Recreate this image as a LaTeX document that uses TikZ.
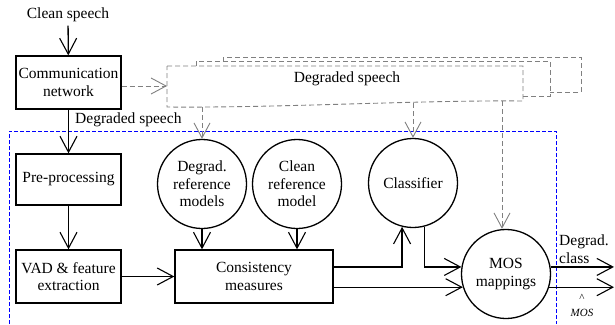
\documentclass[tikz,border=0pt]{standalone}
\usepackage{fontspec}
\setmainfont{Liberation Serif}
\usetikzlibrary{arrows.meta}
\begin{document}
\begin{tikzpicture}[x=1pt,y=-1pt, font=\fontsize{15.5}{17.5}\selectfont,
  box/.style={draw, line width=1.3pt, minimum width=105pt, inner sep=0pt, align=center},
  circ/.style={draw, circle, line width=1.3pt, minimum size=89pt, inner sep=0pt, align=center},
  arr/.style={line width=1.3pt, -{Straight Barb[length=16pt,width=17pt,line width=1.1pt]}},
  gline/.style={draw=gray, line width=0.9pt, dash pattern=on 5pt off 3pt},
  garr/.style={gline, -{Straight Barb[length=15pt,width=16pt,line width=0.9pt]}},
  blueline/.style={draw=blue, line width=1pt, dash pattern=on 4pt off 2pt}]
\useasboundingbox (0,0) rectangle (615,324);

% blue dashed frame
\draw[blueline] (9,324) -- (9,131) -- (556,131) -- (556,324);

% degraded speech stack
\draw[gline] (223,61) -- (223,57) -- (581,57) -- (581,92) -- (550,92);
\draw[gline] (196,66) -- (196,61) -- (550,61) -- (550,96) -- (523,96);
\draw[gline] (167,66) -- (523,66) -- (523,101) .. controls (420,100) and (280,108) .. (167,107) -- cycle;
\node (dsp) at (347,79) {Degraded speech};
\coordinate (din) at (167,86);
\coordinate (b1) at (202,107);
\coordinate (b2) at (413,103);
\coordinate (b3) at (502,101);

% nodes
\node (clean) at (68,15) {Clean speech};
\node[box, minimum height=53pt] (comm) at (68.5,82.5) {Communication\\network};
\node[box, minimum height=51pt] (pre) at (68.5,179.5) {Pre-processing};
\node[box, minimum height=53pt] (vad) at (68.5,276.5) {VAD \& feature\\extraction};
\node[box, minimum width=158pt, minimum height=53pt] (cons) at (254,276.5) {Consistency\\measures};
\node[circ] (deg) at (202,184) {Degrad.\\reference\\models};
\node[circ] (cln) at (297,184) {Clean\\reference\\model};
\node[circ] (cls) at (413,183) {Classifier};
\node[circ] (mos) at (506,274) {MOS\\mappings};

% labels
\node[anchor=west, inner sep=0pt] (dlab) at (75,120) {Degraded speech};
\node[anchor=west, inner sep=0pt, align=left] (dcl) at (559,249) {Degrad.\\class};
\node[align=center, inner sep=0pt, font=\fontsize{11}{15}\selectfont] (mhat) at (582,305) {\textasciicircum\\\textit{MOS}};

% gray dashed arrows
\draw[garr] (comm.east |- din) -- (din);
\draw[garr] (b1) -- (deg.north);
\draw[garr] (b2) -- (cls.north);
\draw[garr] (b3) -- (b3 |- mos.north);

% black arrows
\draw[arr] (clean) -- (comm);
\draw[arr] (comm) -- (pre);
\draw[arr] (pre) -- (vad);
\draw[arr] (vad) -- (cons);
\draw[arr] (deg) -- (deg |- cons.north);
\draw[arr] (cln) -- (cln |- cons.north);
\draw[arr] (cons.east |- mos.171) -| (cls.256);
\draw[arr] (cls.285) |- (mos.171);
\draw[arr] (cons.east |- mos.197) -- (mos.197);
\coordinate (oa) at (614,0);
\draw[arr] (mos.9) -- (mos.9 -| oa);
\draw[arr] (mos.-17) -- (mos.-17 -| oa);
\end{tikzpicture}
\end{document}
